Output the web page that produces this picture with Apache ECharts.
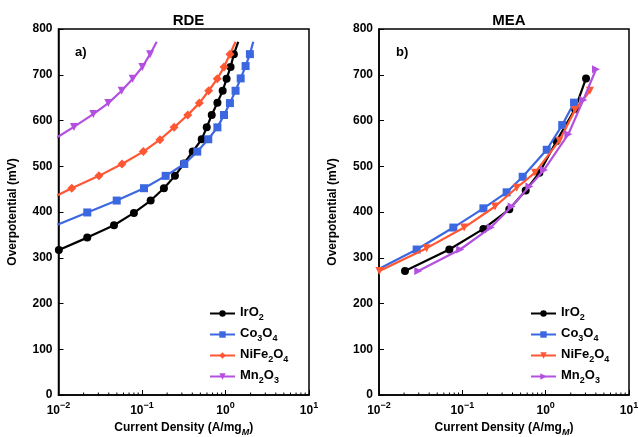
<!DOCTYPE html>
<html><head><meta charset="utf-8">
<script src="https://cdn.jsdelivr.net/npm/echarts@6/dist/echarts.min.js"></script>
<style>html,body{margin:0;padding:0;background:#fff}#c{width:639px;height:437px}</style>
</head><body><div id="c"></div>
<script>
// ---- RDE panel data ----
const rdeIrO2X = [0.0101,0.0221,0.0462,0.080,0.127,0.183,0.248,0.318,0.405,0.519,0.596,0.684,0.80,0.925,1.03,1.15,1.26,1.42];
const rdeIrO2Y = [317,344,371,398,425,452,479,506,532,559,585,612,639,665,691,717,745,772];
const rdeCoX = [0.0097,0.0221,0.0498,0.1057,0.192,0.321,0.459,0.622,0.80,0.96,1.13,1.32,1.52,1.74,1.96,2.15];
const rdeCoY = [372,399,425,452,479,505,532,559,585,612,638,665,692,719,745,772];
const rdeNiX = [0.0072,0.0144,0.0305,0.0576,0.1037,0.164,0.242,0.353,0.486,0.629,0.797,0.96,1.13,1.32];
const rdeNiY = [425,452,479,505,532,558,585,612,638,665,691,717,745,772];
const rdeMnX = [0.009,0.0153,0.0261,0.0395,0.0571,0.0773,0.101,0.125,0.150];
const rdeMnY = [560,586,614,638,665,691,717,745,772];
// ---- MEA panel data ----
const meaIrO2X = [0.0205,0.0698,0.179,0.366,0.576,0.84,1.35,2.25,3.05];
const meaIrO2Y = [271,318,363,406,447,486,555,625,692];
const meaCoX = [0.0098,0.0283,0.078,0.179,0.340,0.53,1.03,1.58,2.19];
const meaCoY = [275,318,366,408,443,477,536,590,639];
const meaNiX = [0.0101,0.0373,0.105,0.247,0.449,0.745,1.46,2.25,3.4];
const meaNiY = [271,321,366,412,453,486,556,623,665];
const meaMnX = [0.0296,0.094,0.219,0.391,0.637,0.955,1.87,2.83,4.02];
const meaMnY = [271,318,366,412,456,492,570,645,712];
// ---- axes ----
const yTicks = [0,100,200,300,400,500,600,700,800];
const xMajor = [0.01,0.1,1,10];
const xMinor = [0.02,0.03,0.04,0.05,0.06,0.07,0.08,0.09,0.2,0.3,0.4,0.5,0.6,0.7,0.8,0.9,2,3,4,5,6,7,8,9];
const names = ['IrO2','Co3O4','NiFe2O4','Mn2O3'];
const colors = ['#000000','#3b68e0','#ff5733','#b450e0'];

const FONT = 'Liberation Sans, Arial, sans-serif';
const pair = (xs, ys, noLastSym) => xs.map((x,i)=>{
  const it = {value:[x, ys[i]]};
  if (noLastSym && i === xs.length-1) it.symbol = 'none';
  return it;
});
const grids = [
  {left:58.5, top:29, width:250.5, height:366, show:true, borderColor:'#000', borderWidth:1.5, outerBoundsMode:'none', containLabel:false},
  {left:379, top:29, width:250, height:366, show:true, borderColor:'#000', borderWidth:1.5, outerBoundsMode:'none', containLabel:false}
];
const subRich = {
  n:{fontSize:13, fontWeight:'bold', fontFamily:FONT, color:'#000', lineHeight:15, verticalAlign:'top'},
  s:{fontSize:9, fontWeight:'bold', fontFamily:FONT, color:'#000', lineHeight:9, verticalAlign:'top', padding:[7,0,0,0]}
};
function subFmt(name){
  const n = name.split('|')[1];
  return n.split(/(\d+)/).filter(t=>t.length).map(t=>/^\d+$/.test(t)?'{s|'+t+'}':'{n|'+t+'}').join('');
}
function mkX(i){
  return {type:'log', logBase:10, gridIndex:i, min:0.01, max:10,
    axisLine:{show:true, lineStyle:{color:'#000', width:1.5}},
    axisTick:{show:true, inside:true, length:5, lineStyle:{color:'#000', width:1}},
    splitLine:{show:false},
    axisLabel:{margin:6, formatter:v=>{const e=Math.round(Math.log10(v));return '{b|10}{p|'+(e<0?'\u2212'+(-e):e)+'}';},
      rich:{b:{fontSize:12, fontWeight:'bold', fontFamily:FONT, color:'#000', lineHeight:15, verticalAlign:'top', padding:[4,0,0,0]},
            p:{fontSize:9, fontWeight:'bold', fontFamily:FONT, color:'#000', lineHeight:9, verticalAlign:'top'}}},
    name:'{n|Current Density (A/mg}{i|M}{n|)}', nameLocation:'middle', nameGap:27,
    nameTextStyle:{rich:{n:{fontSize:12, fontWeight:'bold', fontFamily:FONT, color:'#000', lineHeight:14, verticalAlign:'top'},
      i:{fontSize:9, fontWeight:'bold', fontStyle:'italic', fontFamily:FONT, color:'#000', lineHeight:9, verticalAlign:'top', padding:[6,0,0,0]}}}
  };
}
function mkY(i){
  return {type:'value', gridIndex:i, min:0, max:800, interval:100,
    axisLine:{show:true, lineStyle:{color:'#000', width:1.5}},
    axisTick:{show:true, inside:true, length:5, lineStyle:{color:'#000', width:1}},
    splitLine:{show:false},
    axisLabel:{margin:6, fontSize:12, fontWeight:'bold', fontFamily:FONT, color:'#000'},
    name:'Overpotential (mV)', nameLocation:'middle', nameGap:40,
    nameTextStyle:{fontSize:12, fontWeight:'bold', fontFamily:FONT, color:'#000'}
  };
}
const rdeSets = [[rdeIrO2X,rdeIrO2Y,'circle'],[rdeCoX,rdeCoY,'rect'],[rdeNiX,rdeNiY,'diamond'],[rdeMnX,rdeMnY,'triangle']];
const meaSets = [[meaIrO2X,meaIrO2Y,'circle'],[meaCoX,meaCoY,'rect'],[meaNiX,meaNiY,'triangle'],[meaMnX,meaMnY,'triangle']];
const series = [];
rdeSets.forEach((s,k)=>{
  series.push({type:'line', name:'RDE|'+names[k], xAxisIndex:0, yAxisIndex:0, data:pair(s[0],s[1],true),
    symbol:s[2], symbolSize:s[2]==='diamond'?9:8, symbolRotate:s[2]==='triangle'?180:0, showAllSymbol:true,
    lineStyle:{color:colors[k], width:2.2}, itemStyle:{color:colors[k]}, clip:true, z:3+k});
});
meaSets.forEach((s,k)=>{
  series.push({type:'line', name:'MEA|'+names[k], xAxisIndex:1, yAxisIndex:1, data:pair(s[0],s[1],false),
    symbol:s[2], symbolSize:8, symbolRotate:k===2?180:(k===3?-90:0), showAllSymbol:true,
    lineStyle:{color:colors[k], width:2.2}, itemStyle:{color:colors[k]}, clip:true, z:3+k});
});
[0,1].forEach(g=>{
  series.push({type:'custom', xAxisIndex:g, yAxisIndex:g, silent:true, clip:false, z:10,
    data:xMinor.map(v=>[v,0]),
    renderItem:(params, api)=>{const p=api.coord([api.value(0),0]);
      return {type:'line', shape:{x1:p[0],y1:p[1],x2:p[0],y2:p[1]-2.5}, style:{stroke:'#000', lineWidth:1}};}
  });
});
const legendCommon = {orient:'vertical', itemWidth:25, itemHeight:8, itemGap:5, textStyle:{rich:subRich}, formatter:subFmt, selectedMode:false};
const chart = echarts.init(document.getElementById('c'), null, {renderer:'canvas'});
chart.setOption({
  animation:false, backgroundColor:'#fff',
  title:[
    {text:'RDE', left:183.5, top:8, textAlign:'center', textStyle:{fontSize:15, fontWeight:'bold', fontFamily:FONT, color:'#000'}},
    {text:'MEA', left:504, top:8, textAlign:'center', textStyle:{fontSize:15, fontWeight:'bold', fontFamily:FONT, color:'#000'}},
    {text:'a)', left:70, top:41, textStyle:{fontSize:13, fontWeight:'bold', fontFamily:FONT, color:'#000'}},
    {text:'b)', left:391, top:41, textStyle:{fontSize:13, fontWeight:'bold', fontFamily:FONT, color:'#000'}}
  ],
  grid:grids,
  xAxis:[mkX(0), mkX(1)],
  yAxis:[mkY(0), mkY(1)],
  legend:[
    Object.assign({left:204, top:301, data:names.map(n=>'RDE|'+n)}, legendCommon),
    Object.assign({left:525, top:301, data:names.map(n=>'MEA|'+n)}, legendCommon)
  ],
  series:series
});
</script></body></html>
